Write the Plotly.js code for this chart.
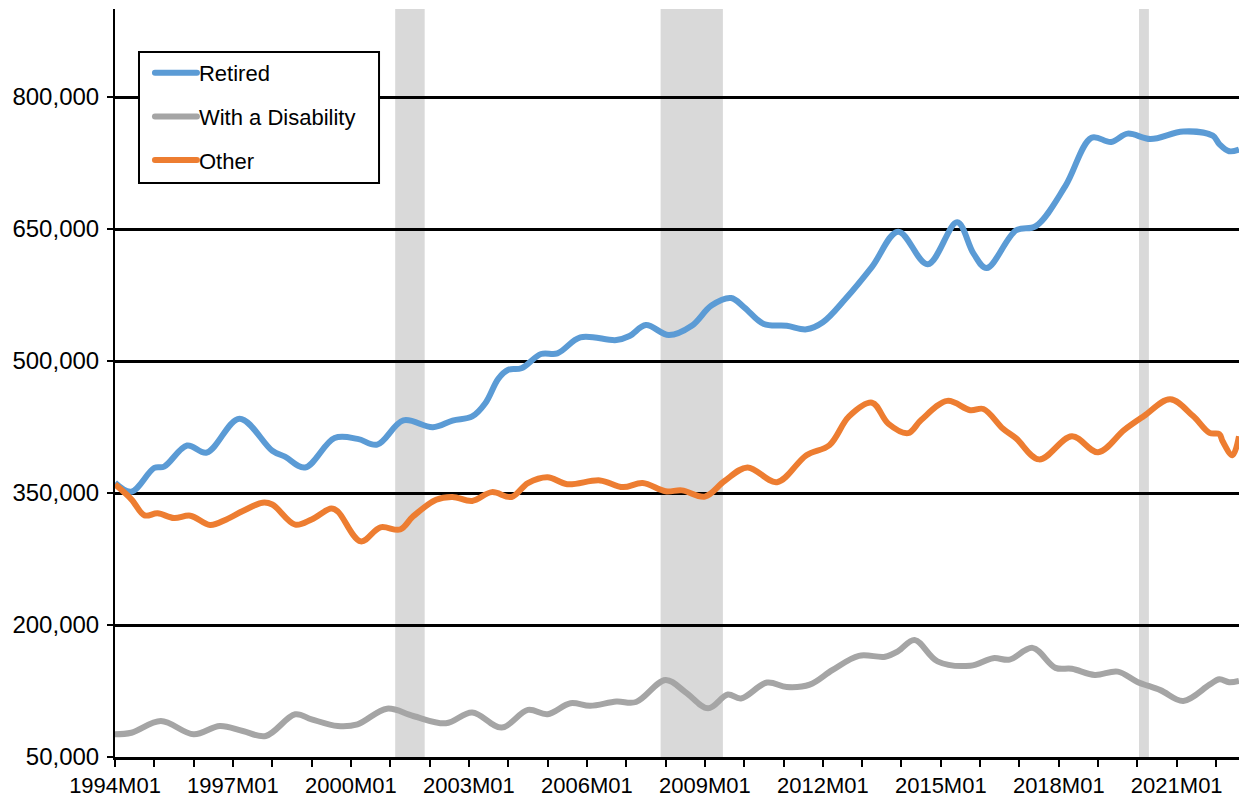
<!DOCTYPE html>
<html><head><meta charset="utf-8">
<script src="https://cdn.plot.ly/plotly-3.0.1.min.js"></script>
<style>html,body{margin:0;padding:0;background:#fff}#chart{width:1239px;height:799px}</style>
</head><body><div id="chart"></div>
<script>
// Monthly categories 1994M01 .. 2022M08
const months = [];
for (let y = 1994; y <= 2022; y++) {
  for (let m = 1; m <= 12; m++) {
    if (y === 2022 && m > 8) break;
    months.push(y + 'M' + String(m).padStart(2, '0'));
  }
}
const labelledTicks = ["1994M01","1997M01","2000M01","2003M01","2006M01","2009M01","2012M01","2015M01","2018M01","2021M01"];
const recessionStart = ["2001M03","2007M12","2020M02"];
const recessionEnd   = ["2001M11","2009M06","2020M04"];

// Retired
const retiredIdx = [0,5,12,15,22,28,38,48,52,58,67,74,80,88,97,103,109,113,117,120,124,130,135,142,153,157,162,169,176,182,188,192,198,205,211,216,223,231,239,248,257,262,266,275,281,290,298,304,309,316,326,335,337,340,343];
const retiredVal = [361700,351500,378500,380000,404000,396000,434500,398000,391000,379000,412500,411500,405000,432500,424800,432300,437000,452000,480000,490000,491700,508000,508700,526800,523800,528400,540800,529500,540000,563000,571500,561000,542000,540000,536000,544000,571000,607000,647000,610000,657600,622000,605600,648600,653300,698700,753700,748900,758400,752200,760800,756000,746500,738400,740300];

// With a Disability
const disabIdx = [0,5,14,24,32,39,46,55,60,68,74,83,91,101,109,118,126,132,139,145,153,159,168,174,181,187,191,199,205,212,219,227,235,239,244,251,261,268,273,280,287,292,299,306,312,319,326,334,337,340,343];
const disabVal = [75800,77600,90900,75800,85200,79500,73900,98500,92800,85200,87100,104900,96600,88300,100500,83400,103500,98600,111100,108100,113000,112500,137500,124000,105300,121000,116500,134600,129500,132200,149000,165000,164000,170400,183000,158700,153800,162300,160600,174000,151300,150200,143300,147000,135300,126000,113700,132200,138300,135000,136500];

// Other
const otherIdx = [0,5,9,13,18,23,29,34,39,45,48,55,60,66,68,75,81,87,91,98,103,109,115,121,126,132,138,148,155,161,168,173,180,186,193,202,211,218,224,231,236,242,246,254,261,265,271,275,282,292,300,308,314,322,329,334,337,338,341,343];
const otherVal = [359800,342800,324600,326900,321500,324200,313600,320000,329500,339000,337000,314000,320000,332400,329000,295000,311000,308500,323500,342400,345500,341000,351000,345500,361300,368000,360000,364300,356700,361300,352000,353000,345900,363600,379100,362300,393000,404300,437000,452600,428700,418000,432900,454700,444000,445500,423000,412000,388200,414500,396300,421700,437400,456500,437400,418300,416900,408800,393000,414500];

const idxToMonth = arr => arr.map(i => months[i]);

const LW = 6;
const lineCommon = {type: 'scatter', mode: 'lines', hoverinfo: 'skip'};
const traces = [
  Object.assign({}, lineCommon, {name: 'Retired', x: idxToMonth(retiredIdx), y: retiredVal, legendgroup: 'a',
    line: {shape: 'spline', smoothing: 1, width: LW, color: '#5B9BD5'}}),
  Object.assign({}, lineCommon, {name: 'With a Disability', x: idxToMonth(disabIdx), y: disabVal, legendgroup: 'b',
    line: {shape: 'spline', smoothing: 1, width: LW, color: '#A5A5A5'}}),
  Object.assign({}, lineCommon, {name: 'Other', x: idxToMonth(otherIdx), y: otherVal, legendgroup: 'c',
    line: {shape: 'spline', smoothing: 1, width: LW, color: '#ED7D31'}})
];

const shapes = recessionStart.map((s, k) => ({
  type: 'rect', xref: 'x', yref: 'paper', layer: 'between',
  x0: months.indexOf(s) - 0.5, x1: months.indexOf(recessionEnd[k]) + 0.5,
  y0: 0, y1: 1, fillcolor: '#D9D9D9', line: {width: 0}
}));
// legend frame
shapes.push({
  type: 'rect', xref: 'paper', yref: 'paper', layer: 'above',
  x0: 0.02135, x1: 0.2349, y0: 0.7674, y1: 0.9425,
  fillcolor: '#fff', line: {color: '#000', width: 2}
});

const yearTicks = months.filter(m => m.endsWith('M01'));
const FONT = '"Liberation Sans", Arial, sans-serif';

const layout = {
  width: 1239, height: 799,
  margin: {l: 115, r: 0, t: 9, b: 42, pad: 0},
  paper_bgcolor: '#fff', plot_bgcolor: '#fff',
  font: {family: FONT, size: 22, color: '#000'},
  showlegend: true,
  legend: {
    x: 0.0231, y: 0.9425, xanchor: 'left', yanchor: 'top',
    borderwidth: 0, bgcolor: 'rgba(0,0,0,0)',
    font: {family: FONT, size: 22, color: '#000'},
    itemwidth: 48,
    tracegroupgap: 12, traceorder: 'grouped'
  },
  xaxis: {
    type: 'category', categoryorder: 'array', categoryarray: months,
    range: [0, months.length - 1],
    tickmode: 'array', tickvals: yearTicks,
    ticktext: yearTicks.map(m => labelledTicks.includes(m) ? m : ''),
    ticks: 'outside', ticklen: 7, tickwidth: 2, tickcolor: '#000',
    showline: true, linecolor: '#000', linewidth: 3,
    showgrid: false, zeroline: false,
    tickfont: {family: FONT, size: 22, color: '#000'}
  },
  yaxis: {
    range: [50000, 900000],
    tickmode: 'linear', tick0: 50000, dtick: 150000,
    tickformat: ',d',
    ticks: 'outside', ticklen: 6, tickwidth: 1.5, tickcolor: '#000',
    showline: true, linecolor: '#000', linewidth: 2,
    showgrid: true, gridcolor: '#000', gridwidth: 3,
    zeroline: false,
    ticklabelstandoff: 3,
    tickfont: {family: FONT, size: 24, color: '#000'}
  },
  shapes: shapes
};

Plotly.newPlot('chart', traces, layout, {displayModeBar: false, staticPlot: true}).then(gd => {
  gd.querySelectorAll('.legendlines path').forEach(p => {
    p.setAttribute('d', 'M14,0h42');
    p.style.strokeLinecap = 'round';
  });
});
</script>
</body></html>
